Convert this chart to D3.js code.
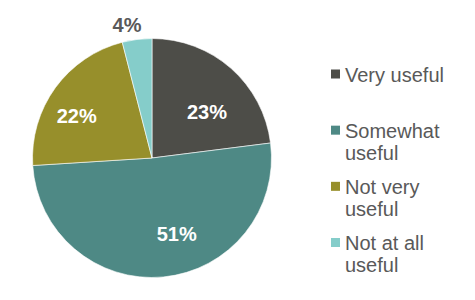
<!DOCTYPE html>
<html>
<head>
<meta charset="utf-8">
<script src="https://cdn.jsdelivr.net/npm/d3@7"></script>
<style>
  html, body { margin: 0; padding: 0; background: #fff; }
  svg { display: block; }
</style>
</head>
<body>
<svg id="chart" width="475" height="300"></svg>
<script>
const categories = ["Very useful", "Somewhat useful", "Not very useful", "Not at all useful"];
const values = [23, 51, 22, 4];
const legendLines = [["Very useful"], ["Somewhat", "useful"], ["Not very", "useful"], ["Not at all", "useful"]];
const colors = ["#4d4d48", "#4e8985", "#978f2b", "#85cdca"];

const svg = d3.select("#chart");
const cx = 152, cy = 158, r = 119.5;
const font = "'Liberation Sans', Arial, sans-serif";

const pie = d3.pie().sort(null).value(d => d)(values);
const arc = d3.arc().innerRadius(0).outerRadius(r);
const g = svg.append("g").attr("transform", `translate(${cx},${cy})`);

g.selectAll("path").data(pie).enter().append("path")
  .attr("d", arc)
  .attr("fill", (d, i) => colors[i])
  .attr("stroke", "#fff")
  .attr("stroke-width", 0.6);

// label placement
const inArc = d3.arc().innerRadius(72).outerRadius(72);
const outArc = d3.arc().innerRadius(136).outerRadius(136);
const nudge = [[7.4, 8], [18, 4.3], [-17, 0], [-8, 1.5]];
const outside = [false, false, false, true];

g.selectAll("text.lbl").data(pie).enter().append("text")
  .attr("class", "lbl")
  .attr("x", (d, i) => (outside[i] ? outArc : inArc).centroid(d)[0] + nudge[i][0])
  .attr("y", (d, i) => (outside[i] ? outArc : inArc).centroid(d)[1] + nudge[i][1])
  .attr("text-anchor", "middle")
  .attr("dominant-baseline", "central")
  .attr("font-family", font)
  .attr("font-weight", "bold")
  .attr("font-size", 20)
  .attr("fill", (d, i) => outside[i] ? "#595959" : "#ffffff")
  .text(d => d.value + "%");

// legend
const legY = d3.scaleLinear().domain([0, 3]).range([81.5, 250]);
const leg = svg.append("g");
categories.forEach((c, i) => {
  const y = legY(i);
  leg.append("rect")
    .attr("x", 331).attr("y", y - 12)
    .attr("width", 9).attr("height", 9)
    .attr("fill", colors[i]);
  const t = leg.append("text")
    .attr("x", 345).attr("y", y)
    .attr("font-family", font)
    .attr("font-size", 20)
    .attr("fill", "#595959");
  legendLines[i].forEach((line, j) => {
    t.append("tspan").attr("x", 345).attr("y", y + j * 22).text(line);
  });
});
</script>
</body>
</html>
